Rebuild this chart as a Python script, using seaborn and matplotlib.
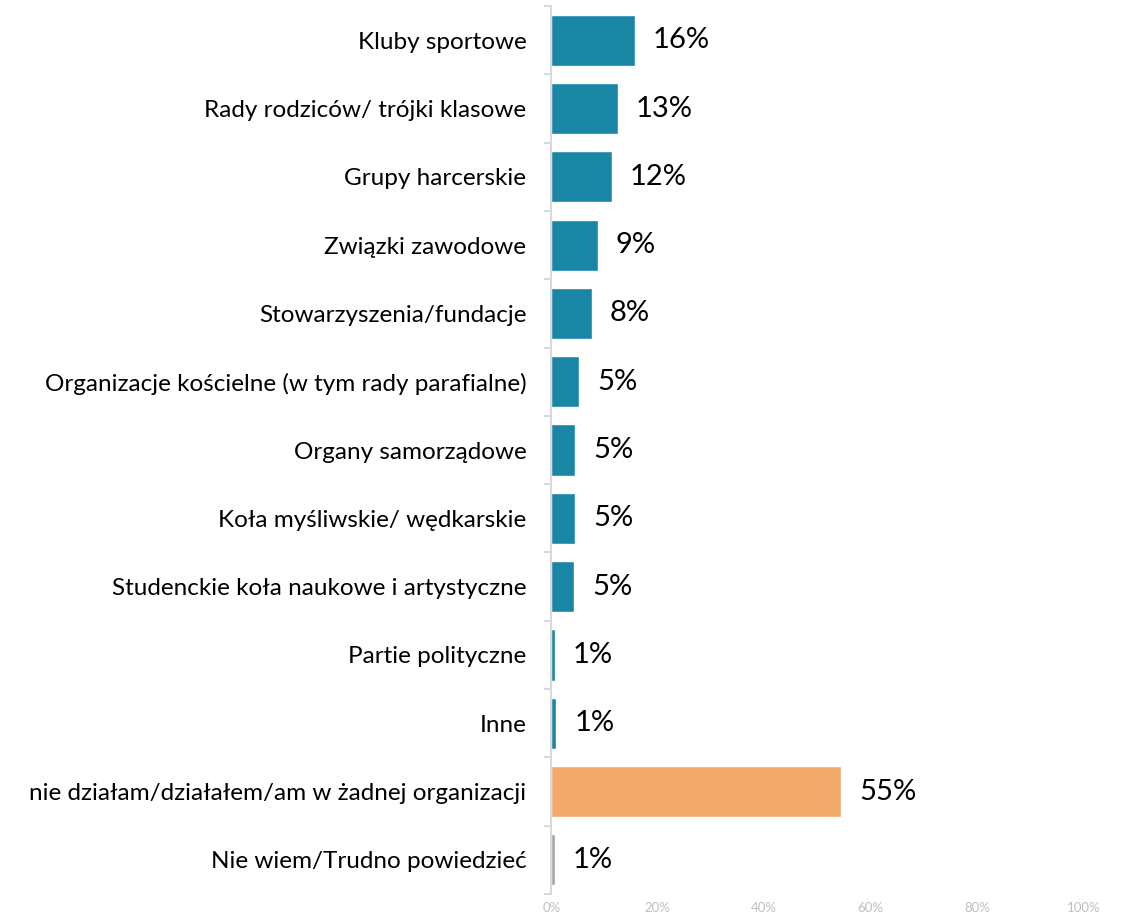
import matplotlib
matplotlib.use('Agg')
from matplotlib import pyplot as plt
from matplotlib.ticker import FixedLocator
import seaborn as sns
import pandas as pd

categories = ['Kluby sportowe', 'Rady rodziców/ trójki klasowe', 'Grupy harcerskie',
              'Związki zawodowe', 'Stowarzyszenia/fundacje',
              'Organizacje kościelne (w tym rady parafialne)', 'Organy samorządowe',
              'Koła myśliwskie/ wędkarskie', 'Studenckie koła naukowe i artystyczne',
              'Partie polityczne', 'Inne', 'nie działam/działałem/am w żadnej organizacji',
              'Nie wiem/Trudno powiedzieć']
values = [15.7, 12.5, 11.3, 8.7, 7.6, 5.2, 4.5, 4.4, 4.3, 0.6, 0.9, 54.5, 0.6]
value_labels = ['16%', '13%', '12%', '9%', '8%', '5%', '5%', '5%', '5%', '1%', '1%', '55%', '1%']
bar_colors = ['#1A86A6'] * 11 + ['#F1AA6A', '#A5A5A5']
x_ticks = [0, 20, 40, 60, 80, 100]

df = pd.DataFrame({'cat': categories, 'val': values})

sns.set_style('white')
plt.rcParams['font.family'] = ['Lato', 'DejaVu Sans']

fig = plt.figure(figsize=(11.22, 9.16), dpi=100)
ax = fig.add_axes([0.4915, 0.024, 0.474, 0.9694])

sns.barplot(data=df, x='val', y='cat', hue='cat', palette=bar_colors, legend=False,
            width=0.75, ax=ax, saturation=1)

for cont, lab in zip(ax.containers, value_labels):
    ax.bar_label(cont, labels=[lab], padding=13, fontsize=21, color='black')

ax.set_xlim(0, 100)
ax.set_ylim(12.5, -0.5)
ax.set_xticks(x_ticks)
ax.set_xticklabels([f'{t}%' for t in x_ticks])
ax.set_xlabel('')
ax.set_ylabel('')

for s in ['top', 'right', 'bottom']:
    ax.spines[s].set_visible(False)
ax.spines['left'].set_color('#D9D9D9')
ax.spines['left'].set_linewidth(1.5)

ax.tick_params(axis='x', length=0, labelsize=9.5, labelcolor='#BFBFBF', pad=6)
ax.tick_params(axis='y', which='major', length=0, labelsize=17.5, labelcolor='black', pad=18)
ax.yaxis.set_minor_locator(FixedLocator([i - 0.5 for i in range(14)]))
ax.tick_params(axis='y', which='minor', left=True, length=5, color='#D9D9D9', width=1.5)

plt.savefig('out.png', dpi=100)
